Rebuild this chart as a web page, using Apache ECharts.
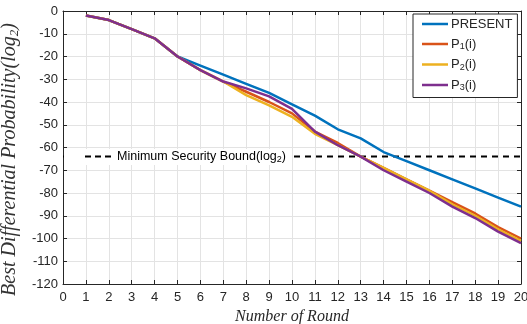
<!DOCTYPE html>
<html>
<head>
<meta charset="utf-8">
<script src="https://cdn.jsdelivr.net/npm/echarts@6/dist/echarts.min.js"></script>
<style>
  html, body { margin: 0; padding: 0; background: #fff; }
  #chart { width: 527px; height: 324px; }
</style>
</head>
<body>
<div id="chart"></div>
<script>
// rounds 1..20, log2 of best differential probability
const rounds = [1, 2, 3, 4, 5, 6, 7, 8, 9, 10, 11, 12, 13, 14, 15, 16, 17, 18, 19, 20];
const present = [-2, -4, -8, -12, -20, -24, -28, -32, -36, -41, -46, -52, -56, -62, -66, -70, -74, -78, -82, -86];
const p1 = [-2, -4, -8, -12, -20, -26, -31, -35.5, -40, -45, -53, -58, -64, -69, -74, -79, -84, -89, -95, -100];
const p2 = [-2, -4, -8, -12, -20, -26, -31, -37, -41.5, -46.5, -54, -59, -64, -69, -74, -79, -85, -90, -96, -101];
const p3 = [-2, -4, -8, -12, -20, -26, -31, -34, -37.5, -43, -53, -59, -64, -70, -75, -80, -86, -91, -97, -102];
const boundValue = -64;
const boundRange = [0, 20];

const colors = ['#0072BD', '#D95319', '#EDB120', '#7E2F8E'];
const pair = ys => rounds.map((r, i) => [r, ys[i]]);

// legend icons: the stray M points pin the bounding box so the bar stays thin
const lineIcon = 'path://M0,0 M0,5.75 H26 V8.25 H0 Z M26,14';
const dashIcon = 'path://M0,0 M0,5 H6 V7 H0 Z M10,5 H16 V7 H10 Z M20,5 H26 V7 H20 Z M26,12';

const chart = echarts.init(document.getElementById('chart'));

const lineSeries = (name, ys, color) => ({
  name: name,
  type: 'line',
  data: pair(ys),
  symbol: 'none',
  lineStyle: { color: color, width: 2.5 },
  itemStyle: { color: color },
  z: 3
});

const sans = 'Liberation Sans, Arial, sans-serif';
const serif = 'Liberation Serif, Times New Roman, serif';
const tickFont = { color: '#262626', fontSize: 13, fontFamily: sans };

const option = {
  animation: false,
  grid: { left: 63, right: 6, top: 11, bottom: 40, outerBoundsMode: 'none' },
  legend: [
    {
      data: ['PRESENT', 'P1', 'P2', 'P3'].map(n => ({ name: n, icon: lineIcon })),
      orient: 'vertical',
      left: 413,
      top: 14,
      padding: [3, 5, 5, 9],
      itemGap: 5.5,
      itemWidth: 26,
      itemHeight: 14,
      borderColor: '#262626',
      borderWidth: 1,
      borderRadius: 0,
      backgroundColor: '#fff',
      formatter: function (name) {
        if (name === 'PRESENT') return '{a|PRESENT}';
        return '{a|P}{s|' + name.slice(1) + '}{a|(i)}';
      },
      textStyle: {
        color: '#262626',
        padding: [0, 0, 0, -2],
        rich: {
          a: { fontSize: 13, fontFamily: sans, color: '#262626', lineHeight: 15, verticalAlign: 'middle' },
          s: { fontSize: 9, fontFamily: sans, color: '#262626', lineHeight: 9, padding: [6, 0, 0, 0], verticalAlign: 'bottom' }
        }
      }
    },
    {
      data: [{ name: 'bound', icon: dashIcon }],
      left: 64,
      top: 149,
      padding: [0, 4, 1, 21],
      itemWidth: 26,
      itemHeight: 12,
      itemGap: 0,
      backgroundColor: '#fff',
      borderRadius: 0,
      formatter: function () {
        return '{a|Minimum Security Bound(log}{s|2}{a|)}';
      },
      textStyle: {
        padding: [0, 0, 0, 1],
        rich: {
          a: { fontSize: 12.5, fontFamily: sans, color: '#000', lineHeight: 15, verticalAlign: 'middle' },
          s: { fontSize: 9, fontFamily: sans, color: '#000', lineHeight: 9, padding: [6, 0, 0, 0], verticalAlign: 'bottom' }
        }
      }
    }
  ],
  xAxis: [
    {
      type: 'value',
      min: 0,
      max: 20,
      interval: 1,
      name: 'Number of Round',
      nameLocation: 'middle',
      nameGap: 25,
      nameTextStyle: { fontFamily: serif, fontStyle: 'italic', fontSize: 16, color: '#262626' },
      axisLine: { onZero: false, lineStyle: { color: '#262626', width: 1 } },
      axisTick: { inside: true, length: 4, lineStyle: { color: '#262626' } },
      axisLabel: Object.assign({ margin: 7 }, tickFont),
      splitLine: { show: true, lineStyle: { color: '#e3e3e3', width: 1 } }
    },
    {
      type: 'value',
      position: 'top',
      min: 0,
      max: 20,
      interval: 1,
      axisLine: { onZero: false, lineStyle: { color: '#262626', width: 1 } },
      axisTick: { inside: true, length: 4, lineStyle: { color: '#262626' } },
      axisLabel: { show: false },
      splitLine: { show: false }
    }
  ],
  yAxis: [
    {
      type: 'value',
      min: -120,
      max: 0,
      interval: 10,
      name: 'Best Differential Probability(log{s|2})',
      nameLocation: 'middle',
      nameGap: 34,
      nameTextStyle: {
        fontFamily: serif,
        fontStyle: 'italic',
        fontSize: 20,
        color: '#333',
        padding: [0, 24, 0, 0],
        rich: {
          s: { fontFamily: serif, fontStyle: 'italic', fontSize: 13, color: '#333', padding: [9, 0, 0, 0] }
        }
      },
      axisLine: { onZero: false, lineStyle: { color: '#262626', width: 1 } },
      axisTick: { inside: true, length: 4, lineStyle: { color: '#262626' } },
      axisLabel: Object.assign({ margin: 5 }, tickFont),
      splitLine: { show: true, lineStyle: { color: '#e3e3e3', width: 1 } }
    },
    {
      type: 'value',
      position: 'right',
      min: -120,
      max: 0,
      interval: 10,
      axisLine: { onZero: false, lineStyle: { color: '#262626', width: 1 } },
      axisTick: { inside: true, length: 4, lineStyle: { color: '#262626' } },
      axisLabel: { show: false },
      splitLine: { show: false }
    }
  ],
  series: [
    {
      name: 'bound',
      type: 'line',
      data: boundRange.map(x => [x, boundValue]),
      symbol: 'none',
      lineStyle: { color: '#000', width: 2, type: [6, 5] },
      itemStyle: { color: '#000' },
      z: 2
    },
    lineSeries('PRESENT', present, colors[0]),
    lineSeries('P1', p1, colors[1]),
    lineSeries('P2', p2, colors[2]),
    lineSeries('P3', p3, colors[3])
  ]
};

chart.setOption(option);
</script>
</body>
</html>
